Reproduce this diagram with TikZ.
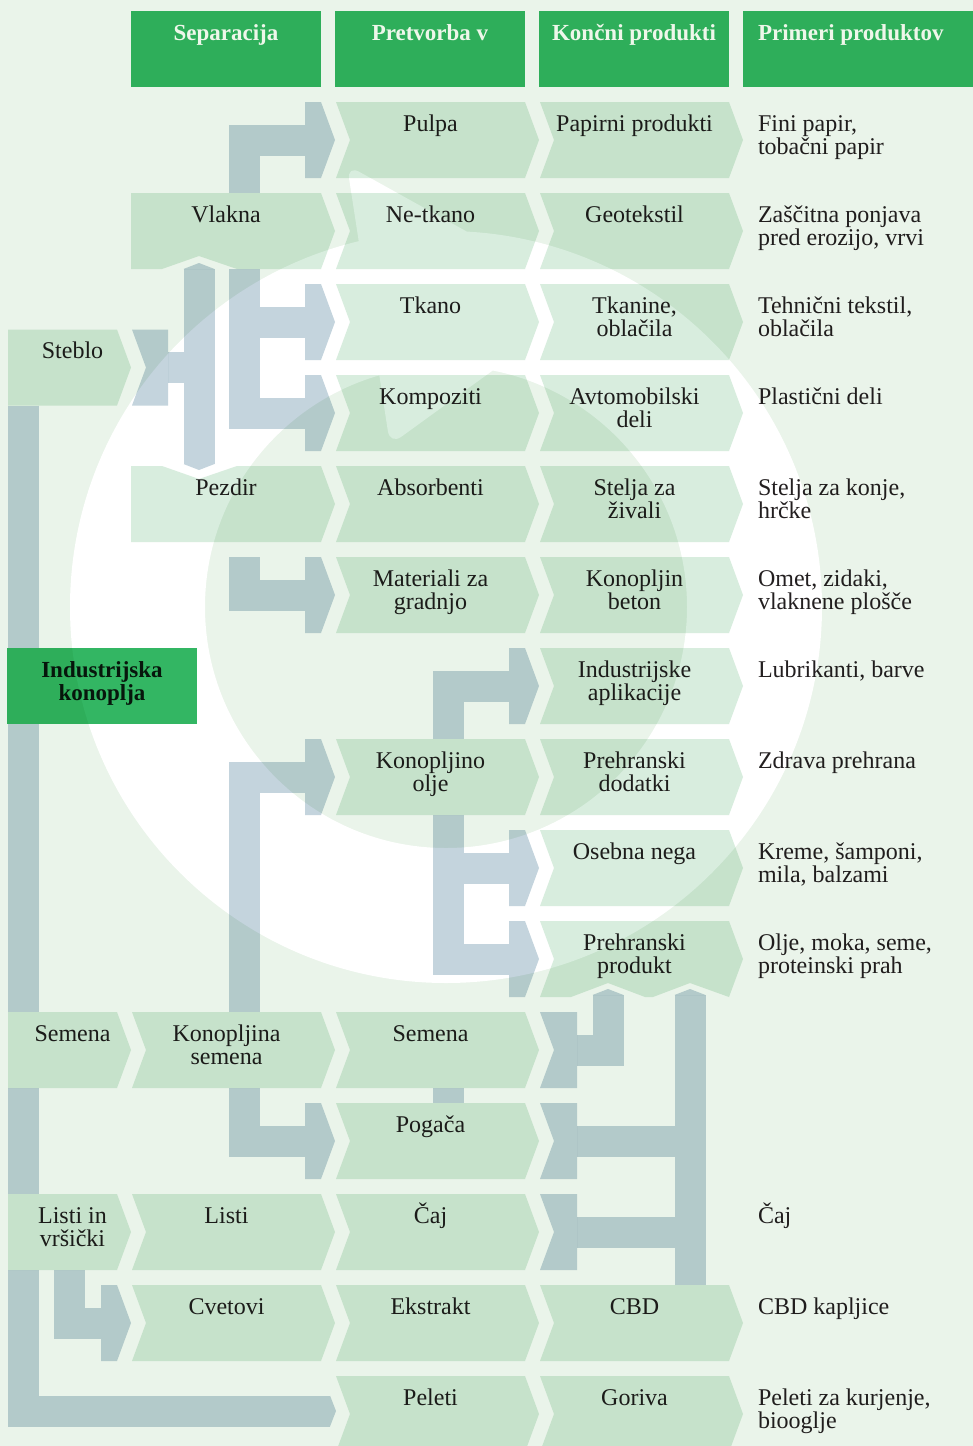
\documentclass[tikz,border=0pt]{standalone}
\usepackage{fontspec}
\setmainfont{Liberation Serif}
\usetikzlibrary{arrows.meta}

\definecolor{bgc}{RGB}{234,244,234}
\definecolor{boxc}{RGB}{216,237,222}
\definecolor{connc}{RGB}{196,212,221}
\definecolor{hdrc}{RGB}{51,182,99}
\definecolor{txtc}{RGB}{35,31,32}
\definecolor{hdrtxt}{RGB}{238,247,234}

\tikzstyle{cell} = [inner sep=0pt, outer sep=0pt, text=txtc]
\tikzstyle{hdr} = [cell, text=hdrtxt, font=\bfseries]
\tikzstyle{hd} = [inner sep=0pt, outer sep=0pt, minimum height=76pt]
\tikzstyle{bar} = [draw=connc, line width=31pt]
\tikzset{bartip/.tip={Triangle[length=6pt,width=31pt,line width=0pt]}}

\newcommand\cellfont{\fontsize{24}{23.5}\selectfont}
\newcommand\hdrfont{\fontsize{23}{23.5}\selectfont}
\newcommand\celltext[3]{\parbox[c][76pt][t]{#1}{\cellfont#2\rule{0pt}{29pt}#3}}

% cell outlines: left x, right x, row (rows are 91pt apart)
\newcommand\tipcell[3]{(#1,{11+91*#3}) -- (#2,{11+91*#3}) -- (#2+14,{49+91*#3}) -- (#2,{87+91*#3}) -- (#1,{87+91*#3}) -- cycle}
\newcommand\chevcell[3]{(#1,{11+91*#3}) -- (#2,{11+91*#3}) -- (#2+14,{49+91*#3}) -- (#2,{87+91*#3}) -- (#1,{87+91*#3}) -- (#1+14,{49+91*#3}) -- cycle}
\newcommand\tailcell[3]{(#1,{11+91*#3}) -- (#2,{11+91*#3}) -- (#2,{87+91*#3}) -- (#1,{87+91*#3}) -- (#1+14,{49+91*#3}) -- cycle}

% chevron with its text: name, left x, right x, row, text
\newcommand\chevbox[5]{\fill[boxc] \chevcell{#2}{#3}{#4};
  \node[cell] (#1) at ({(#2+#3)/2},{49+91*#4}) {\celltext{\dimexpr#3pt-#2pt\relax}{\centering}{#5}};}
% text of the last column: name, row, text
\newcommand\example[3]{\node[cell, anchor=north west] (#1) at (758,{11+91*#2}) {\celltext{215pt}{\raggedright}{#3}};}
% heads and tails of the connectors
\newcommand\headbox[4]{\fill[connc] \tipcell{#2}{#3}{#4};
  \node[hd, minimum width={#3-#2}] (#1) at ({(#2+#3)/2},{49+91*#4}) {};}
\newcommand\tailbox[4]{\fill[connc] \tailcell{#2}{#3}{#4};
  \node[hd, minimum width={#3-#2}] (#1) at ({(#2+#3)/2},{49+91*#4}) {};}

\begin{document}
\begin{tikzpicture}[x=1pt, y=-1pt]
\useasboundingbox (0,0) rectangle (973,1446);
\fill[bgc] (0,0) rectangle (973,1446);
% circular arrow behind everything
\fill[white] (822,607) arc[start angle=0, end angle=-360, radius=376pt]
  (687,607) arc[start angle=0, end angle=360, radius=241pt]
  {[rounded corners=14pt] (347,165) -- (590,300) -- (390,445) -- cycle};

\begin{scope}[blend mode=multiply]
% column heads
\fill[hdrc] (131,11) rectangle (321,87);
\fill[hdrc] (335,11) rectangle (525,87);
\fill[hdrc] (539,11) rectangle (729,87);
\fill[hdrc] (743,11) rectangle (973,87);

% plant
\fill[hdrc] (7,648) rectangle (197,724);
\node[cell, font=\bfseries] (ind) at (102,686) {\celltext{190pt}{\centering}{\hdrfont Industrijska\\konoplja}};

% parts of the plant
\fill[boxc] \tipcell{8}{117}{3.5};
\node[cell] (steblo) at (72.5,367.5) {\celltext{129pt}{\centering}{Steblo}};
\fill[boxc] \tipcell{8}{117}{11};
\node[cell] (semena0) at (72.5,1050) {\celltext{129pt}{\centering}{Semena}};
\fill[boxc] \tipcell{8}{117}{13};
\node[cell] (listivrs) at (72.5,1232) {\celltext{129pt}{\centering}{Listi in\\vršički}};

% separation
\fill[boxc] (131,193) -- (321,193) -- (335,231) -- (321,269) -- (237,269) -- (199,256) -- (162,269) -- (131,269) -- cycle;
\node[cell] (vlakna) at (226,231) {\celltext{190pt}{\centering}{Vlakna}};
\fill[boxc] (131,466) -- (162,466) -- (199,479) -- (237,466) -- (321,466) -- (335,504) -- (321,542) -- (131,542) -- cycle;
\node[cell] (pezdir) at (226,504) {\celltext{190pt}{\centering}{Pezdir}};
\chevbox{konsem}{132}{321}{11}{Konopljina\\semena}
\chevbox{listi}{132}{321}{13}{Listi}
\chevbox{cvetovi}{132}{321}{14}{Cvetovi}

% processing
\chevbox{pulpa}{336}{525}{1}{Pulpa}
\chevbox{netkano}{336}{525}{2}{Ne-tkano}
\chevbox{tkano}{336}{525}{3}{Tkano}
\chevbox{kompoziti}{336}{525}{4}{Kompoziti}
\chevbox{absorb}{336}{525}{5}{Absorbenti}
\chevbox{material}{336}{525}{6}{Materiali za\\gradnjo}
\chevbox{olje}{336}{525}{8}{Konopljino\\olje}
\chevbox{semena2}{336}{525}{11}{Semena}
\chevbox{pogaca}{336}{525}{12}{Pogača}
\chevbox{caj2}{336}{525}{13}{Čaj}
\chevbox{ekstrakt}{336}{525}{14}{Ekstrakt}
\chevbox{peleti}{336}{525}{15}{Peleti}

% end products
\chevbox{papir}{540}{729}{1}{Papirni produkti}
\chevbox{geotek}{540}{729}{2}{Geotekstil}
\chevbox{tkanine}{540}{729}{3}{Tkanine,\\oblačila}
\chevbox{avto}{540}{729}{4}{Avtomobilski\\deli}
\chevbox{stelja}{540}{729}{5}{Stelja za\\živali}
\chevbox{beton}{540}{729}{6}{Konopljin\\beton}
\chevbox{indapl}{540}{729}{7}{Industrijske\\aplikacije}
\chevbox{dodatki}{540}{729}{8}{Prehranski\\dodatki}
\chevbox{nega}{540}{729}{9}{Osebna nega}
\fill[boxc] (540,921) -- (729,921) -- (743,959) -- (729,997) -- (690,983) -- (653,997) -- (645,997) -- (608,983) -- (571,997) -- (540,997) -- (554,959) -- cycle;
\node[cell] (prehprod) at (634.5,959) {\celltext{189pt}{\centering}{Prehranski\\produkt}};
\chevbox{cbd}{540}{729}{14}{CBD}
\chevbox{goriva}{540}{729}{15}{Goriva}

% examples
\example{exPapir}{1}{Fini papir,\\tobačni papir}
\example{exGeo}{2}{Zaščitna ponjava\\pred erozijo, vrvi}
\example{exTek}{3}{Tehnični tekstil,\\oblačila}
\example{exPlast}{4}{Plastični deli}
\example{exKonje}{5}{Stelja za konje,\\hrčke}
\example{exOmet}{6}{Omet, zidaki,\\vlaknene plošče}
\example{exLub}{7}{Lubrikanti, barve}
\example{exZdrav}{8}{Zdrava prehrana}
\example{exKreme}{9}{Kreme, šamponi,\\mila, balzami}
\example{exOlje}{10}{Olje, moka, seme,\\proteinski prah}
\example{exCaj}{13}{Čaj}
\example{exCbd}{14}{CBD kapljice}
\example{exPel}{15}{Peleti za kurjenje,\\biooglje}

% heads and tails of the connectors
\headbox{hdPulpa}{305}{321}{1}
\headbox{hdTkano}{305}{321}{3}
\headbox{hdKomp}{305}{321}{4}
\headbox{hdMat}{305}{321}{6}
\headbox{hdOlje}{305}{321}{8}
\headbox{hdPog}{305}{321}{12}
\headbox{hdInd}{509}{525}{7}
\headbox{hdNega}{509}{525}{9}
\headbox{hdPrehr}{509}{525}{10}
\headbox{hdCvet}{101}{117}{14}
\tailbox{tlSteblo}{132}{168}{3.5}
\tailbox{tlSem}{540}{577}{11}
\tailbox{tlPog}{540}{577}{12}
\tailbox{tlCaj}{540}{577}{13}

% connectors
\draw[bar] ([xshift=18.5pt]vlakna.north) |- (hdPulpa.west);
\coordinate (vx) at ([xshift=18.5pt]vlakna.south);
\coordinate (vxr) at ([xshift=15.5pt]vx);
\draw[bar] (vx) |- (hdKomp.west);
\draw[bar] (vxr |- hdTkano.west) -- (hdTkano.west);
\coordinate (sx) at ([xshift=-27pt]vlakna.south);
\coordinate (sxl) at ([xshift=-15pt]sx);
\coordinate (sxb) at (sx |- pezdir.north);
\draw[bar, bartip-bartip] ([yshift=6pt]sx) -- ([yshift=-4pt]sxb);
\draw[bar] (tlSteblo.east) -- (tlSteblo.east -| sxl);
\draw[bar] ([xshift=18.5pt,yshift=-15pt]pezdir.south) |- (hdMat.west);
\draw[bar] ([xshift=18pt]konsem.north) |- (hdOlje.west);
\draw[bar] ([xshift=18pt]konsem.south) |- (hdPog.west);
\draw[bar] ([xshift=-3pt]listivrs.south) |- (hdCvet.west);
% main stem
\coordinate (tk) at ([xshift=-49pt]steblo.south);
\draw[bar] (tk) -- (tk |- ind.north);
\draw[bar] (tk |- ind.south) -- (tk |- semena0.north);
\draw[bar] (tk |- semena0.south) -- (tk |- listivrs.north);
\draw[bar, -bartip] (tk |- listivrs.south) |- ([yshift=3pt]peleti.west);
% oil
\coordinate (ox) at ([xshift=18pt]olje.north);
\coordinate (oxr) at ([xshift=15.5pt]ox);
\draw[bar] (ox) |- (hdInd.west);
\draw[bar] ([xshift=18pt]olje.south) |- (hdPrehr.west);
\draw[bar] (oxr |- hdNega.west) -- (hdNega.west);
\draw[bar] ([xshift=18pt]semena2.south) -- ([xshift=18pt]pogaca.north);
% into the food product
\draw[bar, -bartip] (tlSem.east) -| ([xshift=-26.5pt,yshift=8pt]prehprod.south);
\coordinate (cx) at ([xshift=55.5pt]cbd.north);
\coordinate (cxl) at ([xshift=-15pt]cx);
\draw[bar, -bartip] (cx) -- ([xshift=55.5pt,yshift=8pt]prehprod.south);
\draw[bar] (tlPog.east) -- (tlPog.east -| cxl);
\draw[bar] (tlCaj.east) -- (tlCaj.east -| cxl);
\end{scope}

% titles of the columns
\node[hdr] (hdSep) at (226,49) {\celltext{190pt}{\centering}{\hdrfont Separacija}};
\node[hdr] (hdPre) at (430,49) {\celltext{190pt}{\centering}{\hdrfont Pretvorba v}};
\node[hdr] (hdKon) at (634,49) {\celltext{190pt}{\centering}{\hdrfont Končni produkti}};
\node[hdr, anchor=north west] (hdPri) at (758,11) {\celltext{215pt}{\raggedright}{\hdrfont Primeri produktov}};
\end{tikzpicture}
\end{document}
